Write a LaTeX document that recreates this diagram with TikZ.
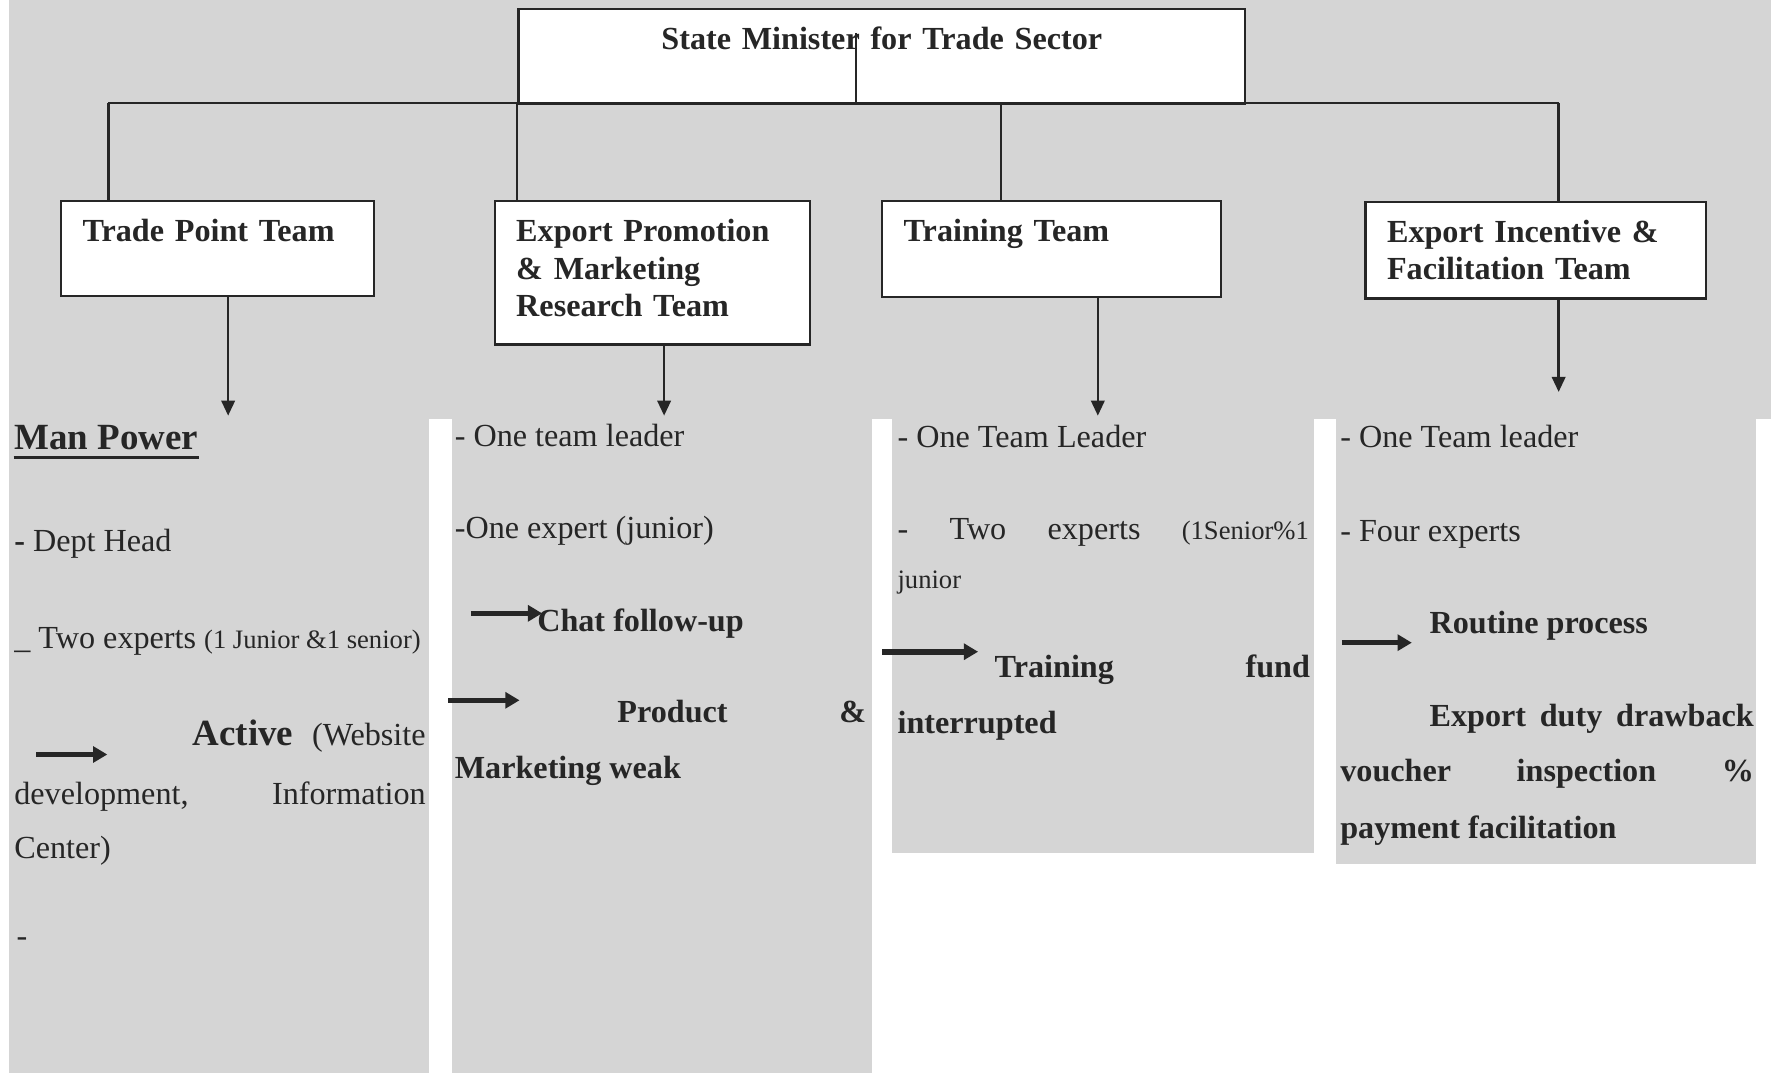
\documentclass[tikz,border=0pt]{standalone}
\usepackage{fontspec}
\setmainfont{Liberation Serif}
\usepackage{tikz}
\usetikzlibrary{positioning, calc, arrows.meta}
\definecolor{orgPaper}{HTML}{D5D5D5}
\definecolor{orgInk}{HTML}{262626}
\newcommand{\orgBody}{\fontsize{8.1pt}{9.4pt}\selectfont}
\newcommand{\orgSmall}{\fontsize{6.7pt}{8pt}\selectfont}
\newcommand{\orgBig}{\fontsize{9.3pt}{11pt}\selectfont}
\tikzset{
  teambox/.style={draw=orgInk, line width=0.6pt, fill=white, anchor=north west, align=left,
    inner xsep=0.19cm, text=orgInk, font=\orgBody\bfseries},
  link/.style={orgInk, line width=0.6pt},
  downarr/.style={orgInk, line width=0.6pt, -{Triangle[width=3.4pt,length=3.8pt]}},
  fatarr/.style={orgInk, line width=1.4pt, -{Triangle[width=4pt,length=3.6pt]}},
  txt/.style={anchor=base west, inner sep=0pt, text=orgInk, font=\orgBody},
  txtb/.style={txt, font=\orgBody\bfseries},
}

\begin{document}
\begin{tikzpicture}[x=0.01cm,y=-0.01cm]
\useasboundingbox (0,0) rectangle (1568,950);
\fill[white] (0,0) rectangle (1568,950);
\fill[orgPaper] (8,0) rectangle (1568,371);
\fill[orgPaper] (8,371) rectangle (380,950);
\fill[orgPaper] (400,371) rectangle (772,950);
\fill[orgPaper] (790,371) rectangle (1163,755);
\fill[orgPaper] (1183,371) rectangle (1555,765);

\node[teambox, align=center, text width=6.05cm, minimum height=0.84cm] (minister) at (458,7) {State Minister for Trade Sector\\\mbox{}};
\node[teambox, text width=2.39cm, minimum height=0.84cm] (tradePt) at (53,177) {Trade Point Team\\\mbox{}};
\node[teambox, text width=2.41cm, minimum height=1.27cm] (exportPr) at (437,177) {Export Promotion\\\& Marketing\\Research Team\\[-7pt]\mbox{}};
\node[teambox, text width=2.62cm, minimum height=0.85cm] (training) at (780,177) {Training Team\\\mbox{}};
\node[teambox, text width=2.63cm, minimum height=0.85cm] (incentive) at (1208,178) {Export Incentive \&\\Facilitation Team};

\coordinate (hub) at (758,29);
\coordinate (dropTp) at (96,91);
\coordinate (dropEp) at (458,91);
\coordinate (dropTr) at (886,91);
\coordinate (dropIn) at (1380,91);
\draw[link] (hub) -- (hub |- minister.south);
\draw[link] (dropTp) -- (dropIn);
\draw[link] (dropTp) -- (dropTp |- tradePt.north);
\draw[link] (dropEp) -- (dropEp |- exportPr.north);
\draw[link] (dropTr) -- (dropTr |- training.north);
\draw[link] (dropIn) -- (dropIn |- incentive.north);

\coordinate (tpEnd) at (202,368);
\coordinate (epEnd) at (588,368);
\coordinate (trEnd) at (972,368);
\coordinate (inEnd) at (1380,347);
\draw[downarr] (tpEnd |- tradePt.south) -- (tpEnd);
\draw[downarr] (epEnd |- exportPr.south) -- (epEnd);
\draw[downarr] (trEnd |- training.south) -- (trEnd);
\draw[downarr] (inEnd |- incentive.south) -- (inEnd);

\node[txt, font=\orgBig\bfseries] (manPower) at (12,398) {Man Power};
\draw[orgInk, line width=0.8pt] ([yshift=-1.9pt]manPower.base west) -- ([yshift=-1.9pt]manPower.base east);
\node[txt] (deptHead) at (12,488) {\textbf{-} Dept Head};
\node[txt] (twoExpTp) at (12,574) {\_ Two experts {\orgSmall (1 Junior \&1 senior)}};
\coordinate (actA) at (32,668);
\coordinate (actB) at (95,668);
\draw[fatarr] (actA) -- (actB);
\node[txt] (active) at (170,660) {\makebox[2.06cm][s]{{\orgBig\bfseries Active} (Website}};
\node[txt] (devel) at (12,712) {\makebox[3.64cm][s]{development, Information}};
\node[txt] (center) at (12,760) {Center)};
\node[txt] (dashTp) at (14,838) {-};

\node[txt] (leadEp) at (402,395) {- One team leader};
\node[txt] (expEp) at (402,477) {-One expert (junior)};
\coordinate (chatA) at (417,543);
\coordinate (chatB) at (480,543);
\draw[fatarr] (chatA) -- (chatB);
\node[txtb] (chat) at (475,559) {Chat follow-up};
\coordinate (prodA) at (397,620);
\coordinate (prodB) at (460,620);
\draw[fatarr] (prodA) -- (prodB);
\node[txtb] (product) at (546,640) {\makebox[2.2cm][s]{Product \&}};
\node[txtb] (mktWeak) at (402,689) {Marketing weak};

\node[txt] (leadTr) at (794,396) {- One Team Leader};
\node[txt] (expTr) at (794,478) {\makebox[3.64cm][s]{- Two experts {\orgSmall (1Senior\%1}}};
\node[txt, font=\orgSmall] (juniorTr) at (794,521) {junior};
\coordinate (fundA) at (781,577);
\coordinate (fundB) at (866,577);
\draw[fatarr] (fundA) -- (fundB);
\node[txtb] (fund) at (880,600) {\makebox[2.79cm][s]{Training fund}};
\node[txtb] (interr) at (794,649) {interrupted};

\node[txt] (leadIn) at (1186,396) {- One Team leader};
\node[txt] (expIn) at (1186,479) {- Four experts};
\coordinate (routA) at (1188,569);
\coordinate (routB) at (1250,569);
\draw[fatarr] (routA) -- (routB);
\node[txtb] (routine) at (1265,561) {Routine process};
\node[txtb] (drawback) at (1265,643) {\makebox[2.87cm][s]{Export duty drawback}};
\node[txtb] (voucher) at (1186,692) {\makebox[3.66cm][s]{voucher inspection \%}};
\node[txtb] (payment) at (1186,742) {payment facilitation};
\end{tikzpicture}
\end{document}
